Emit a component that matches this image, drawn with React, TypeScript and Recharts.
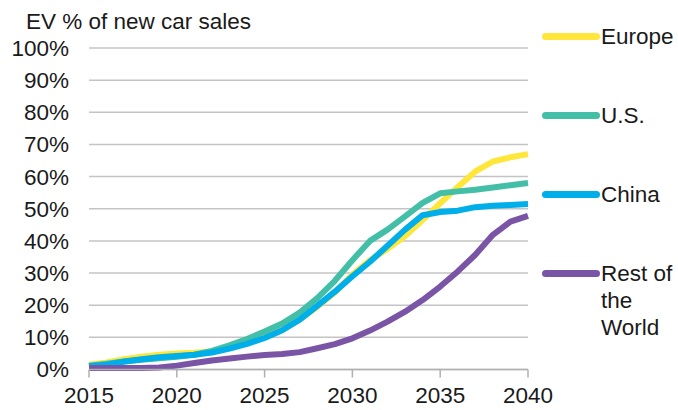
import React from 'react';
import { LineChart, Line, XAxis, YAxis, CartesianGrid } from 'recharts';

const years = [
  2015, 2016, 2017, 2018, 2019, 2020, 2021, 2022, 2023, 2024, 2025, 2026, 2027,
  2028, 2029, 2030, 2031, 2032, 2033, 2034, 2035, 2036, 2037, 2038, 2039, 2040,
];
const europe = [
  1.5, 2.2, 3.2, 4, 4.6, 5, 5.2, 5.6, 6.8, 8.3, 10, 12.3, 15.5,
  19.5, 24, 29.5, 34, 37.5, 41.5, 46.5, 51.7, 56.8, 61.6, 64.7, 66, 67,
];
const us = [
  1.2, 1.8, 2.5, 3, 3.5, 4, 4.6, 5.8, 7.5, 9.5, 11.8, 14.3, 17.7,
  22.2, 27.6, 34, 40, 43.5, 47.6, 51.8, 54.8, 55.4, 55.9, 56.6, 57.3, 58,
];
const china = [
  1, 1.5, 2.5, 3.2, 3.8, 4.2, 4.6, 5.3, 6.5, 8, 9.8, 12.2, 15.5,
  19.8, 24.2, 29, 33.5, 38.5, 43.5, 48, 49, 49.4, 50.5, 50.9, 51.2, 51.5,
];
const restOfWorld = [
  0.5, 0.5, 0.5, 0.5, 0.6, 1.2, 2, 2.8, 3.4, 4, 4.5, 4.8, 5.4,
  6.6, 7.9, 9.7, 12.1, 14.9, 18, 21.6, 25.8, 30.5, 35.7, 41.9, 46, 47.8,
];
const yTicks = [0, 10, 20, 30, 40, 50, 60, 70, 80, 90, 100];
const xTicks = [2015, 2020, 2025, 2030, 2035, 2040];

const series = [
  { key: 'europe', name: 'Europe', color: '#FFE63B', values: europe },
  { key: 'us', name: 'U.S.', color: '#43BFA7', values: us },
  { key: 'china', name: 'China', color: '#00AEEA', values: china },
  { key: 'row', name: 'Rest of the World', color: '#7A55A6', values: restOfWorld },
];

const data = years.map((year, i) => {
  const row: Record<string, number> = { year };
  series.forEach((s) => {
    row[s.key] = s.values[i];
  });
  return row;
});

const FONT = '"Liberation Sans", Arial, sans-serif';
const TEXT = '#1a1a1a';

// legend on the right, one block per series
const SideLegend = () => (
  <div
    style={{
      position: 'absolute',
      left: 542,
      top: 22.5,
      width: 140,
      fontFamily: FONT,
      fontSize: 22.5,
      color: TEXT,
    }}
  >
    {series.map((s) => (
      <div key={s.key} style={{ display: 'flex', alignItems: 'flex-start', height: 79.3 }}>
        <div
          style={{
            width: 58,
            height: 7,
            borderRadius: 4,
            background: s.color,
            marginTop: 10,
            flexShrink: 0,
          }}
        />
        <div style={{ width: 78, lineHeight: '27px', marginLeft: 1 }}>{s.name}</div>
      </div>
    ))}
  </div>
);

export default function App() {
  return (
    <div style={{ position: 'absolute', left: 0, top: 0, width: 678, height: 410, background: '#fff' }}>
      <div
        style={{
          position: 'absolute',
          left: 26,
          top: 8.5,
          fontFamily: FONT,
          fontSize: 22.5,
          color: TEXT,
          whiteSpace: 'nowrap',
        }}
      >
        EV % of new car sales
      </div>
      <LineChart
        width={678}
        height={410}
        data={data}
        margin={{ top: 48, right: 150, bottom: 10.5, left: 0 }}
      >
        <CartesianGrid vertical={false} stroke="#c4c4c4" strokeWidth={1.5} />
        <XAxis
          dataKey="year"
          type="number"
          domain={[2015, 2040]}
          ticks={xTicks}
          interval={0}
          height={30}
          stroke="#b0b0b0"
          strokeWidth={1.5}
          tickSize={8}
          tickMargin={10}
          tick={{ fill: TEXT, fontSize: 22.5, fontFamily: FONT }}
        />
        <YAxis
          type="number"
          domain={[0, 100]}
          ticks={yTicks}
          interval={0}
          width={89}
          axisLine={false}
          tickLine={false}
          tickSize={0}
          tickMargin={20}
          tickFormatter={(v) => `${v}%`}
          tick={{ fill: TEXT, fontSize: 22.5, fontFamily: FONT }}
        />
        {series.map((s) => (
          <Line
            key={s.key}
            dataKey={s.key}
            name={s.name}
            type="linear"
            stroke={s.color}
            strokeWidth={6}
            strokeLinejoin="round"
            dot={false}
            activeDot={false}
            isAnimationActive={false}
          />
        ))}
      </LineChart>
      <SideLegend />
    </div>
  );
}
